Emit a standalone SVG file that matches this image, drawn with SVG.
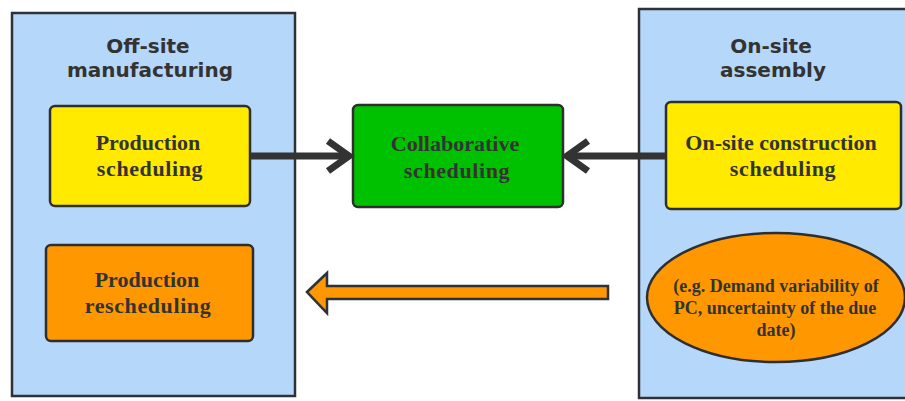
<svg xmlns="http://www.w3.org/2000/svg" width="905" height="401" viewBox="0 0 905 401">
  <style>
    .panel { fill: #b5d7fa; stroke: #2e3236; stroke-width: 2.5; }
    .box { stroke: #2e2e2e; stroke-width: 2.5; }
    .yellow { fill: #ffea00; }
    .orange { fill: #ff9800; }
    .green { fill: #00c100; }
    .title { font-family: "DejaVu Sans", Verdana, sans-serif; font-weight: bold; font-size: 20px; fill: #333333; text-anchor: middle; }
    .label { font-family: "Liberation Serif", "Times New Roman", serif; font-weight: bold; font-size: 22px; fill: #333333; text-anchor: middle; }
    .small { font-size: 18px; }
    .link { fill: none; stroke: #333333; stroke-width: 7; }
  </style>

  <!-- Off-site side -->
  <g id="offsite">
    <rect class="panel" x="12" y="13" width="283" height="383"/>
    <text class="title" x="148" y="53">Off-site</text>
    <text class="title" x="150" y="77">manufacturing</text>
  </g>

  <!-- On-site side -->
  <g id="onsite">
    <rect class="panel" x="639" y="9" width="280" height="389"/>
    <text class="title" x="771" y="53">On-site</text>
    <text class="title" x="773" y="77">assembly</text>
  </g>

  <g id="production-scheduling">
    <rect class="box yellow" x="50" y="106" width="200" height="100" rx="5"/>
    <text class="label" x="148" y="150">Production</text>
    <text class="label" x="150" y="176" letter-spacing="0.6">scheduling</text>
  </g>

  <g id="production-rescheduling">
    <rect class="box orange" x="46" y="245" width="207" height="96" rx="5"/>
    <text class="label" x="147" y="287">Production</text>
    <text class="label" x="148" y="313" letter-spacing="0.6">rescheduling</text>
  </g>

  <g id="collaborative-scheduling">
    <rect class="box green" x="353" y="105" width="210" height="102" rx="5"/>
    <text class="label" x="455" y="151">Collaborative</text>
    <text class="label" x="457" y="178" letter-spacing="0.6">scheduling</text>
  </g>

  <g id="onsite-construction-scheduling">
    <rect class="box yellow" x="666" y="102" width="235" height="107" rx="5"/>
    <text class="label" x="781" y="150">On-site construction</text>
    <text class="label" x="783" y="176" letter-spacing="0.6">scheduling</text>
  </g>

  <g id="uncertainty">
    <ellipse class="box orange" cx="776" cy="297.5" rx="129" ry="64.5"/>
    <text class="label small" x="776" y="292">(e.g. Demand variability of</text>
    <text class="label small" x="775" y="314">PC, uncertainty of the due</text>
    <text class="label small" x="776" y="336">date)</text>
  </g>

  <g id="connectors">
    <!-- production scheduling to collaborative scheduling -->
    <line class="link" x1="250" y1="156" x2="346" y2="156"/>
    <polyline class="link" points="328,141 349,156 328,171"/>
    <!-- on-site scheduling to collaborative scheduling -->
    <line class="link" x1="666" y1="156" x2="570" y2="156"/>
    <polyline class="link" points="588,141 567,156 588,171"/>
    <!-- disturbance feedback into rescheduling -->
    <polygon points="307,292 327,273 327,286 608,286 608,299 327,299 327,313" fill="#ff9800" stroke="#2e3236" stroke-width="2.5" stroke-linejoin="miter"/>
  </g>
</svg>
